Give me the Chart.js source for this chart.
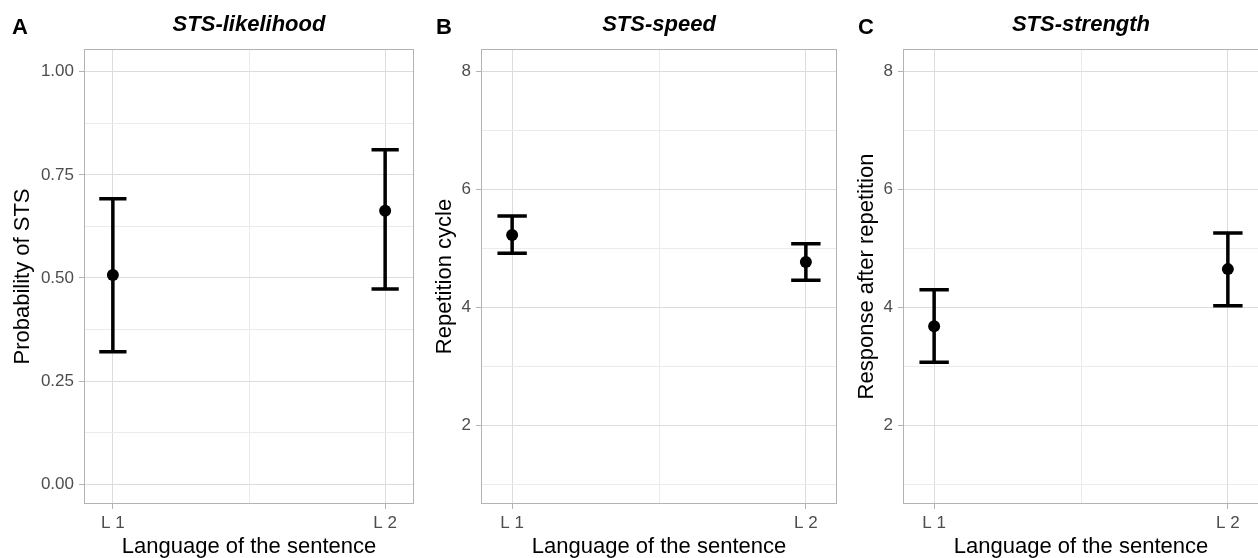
<!DOCTYPE html>
<html>
<head>
<meta charset="utf-8">
<script src="https://cdn.jsdelivr.net/npm/chart.js@4/dist/chart.umd.min.js"></script>
<style>
  body { margin: 0; background: #fff; overflow: hidden; }
  .panel { position: absolute; top: 0; }
</style>
</head>
<body>
<div class="panel" style="left:0px"><canvas id="chartA" width="420" height="558"></canvas></div>
<div class="panel" style="left:420px"><canvas id="chartB" width="420" height="558"></canvas></div>
<div class="panel" style="left:840px"><canvas id="chartC" width="420" height="558"></canvas></div>
<script>
const categories = ['L 1', 'L 2'];

const likelihoodMean = [0.507, 0.663];
const likelihoodLow = [0.321, 0.473];
const likelihoodHigh = [0.692, 0.811];

const speedMean = [5.23, 4.77];
const speedLow = [4.92, 4.46];
const speedHigh = [5.55, 5.08];

const strengthMean = [3.68, 4.65];
const strengthLow = [3.07, 4.03];
const strengthHigh = [4.30, 5.26];

const probTicks = [0, 0.25, 0.5, 0.75, 1];
const probMinor = [0.125, 0.375, 0.625, 0.875];
const countTicks = [2, 4, 6, 8];
const countMinor = [1, 3, 5, 7];

const FONT = '"Liberation Sans", Arial, Helvetica, sans-serif';
const GRID_MAJOR = '#dcdcdc';
const GRID_MINOR = '#ebebeb';
const BORDER = '#b3b3b3';

// error bars + panel border + titles
const decor = {
  id: 'decor',
  beforeDatasetsDraw(chart) {
    const {ctx, scales: {x, y}} = chart;
    const opt = chart.options.plugins.decor;
    ctx.save();
    ctx.strokeStyle = '#000';
    ctx.lineWidth = 3.5;
    opt.low.forEach((lo, i) => {
      const px = x.getPixelForValue(i + 1);
      const w = x.getPixelForValue(i + 1 + 0.05) - px;
      const yl = y.getPixelForValue(lo);
      const yh = y.getPixelForValue(opt.high[i]);
      ctx.beginPath();
      ctx.moveTo(px, yl); ctx.lineTo(px, yh);
      ctx.moveTo(px - w, yl); ctx.lineTo(px + w, yl);
      ctx.moveTo(px - w, yh); ctx.lineTo(px + w, yh);
      ctx.stroke();
    });
    ctx.restore();
  },
  afterDraw(chart) {
    const {ctx, chartArea: a} = chart;
    const opt = chart.options.plugins.decor;
    ctx.save();
    ctx.strokeStyle = BORDER;
    ctx.lineWidth = 1;
    ctx.strokeRect(a.left + 0.5, a.top + 0.5, a.right - a.left - 1, a.bottom - a.top - 1);
    ctx.fillStyle = '#000';
    ctx.textBaseline = 'middle';
    ctx.font = 'bold 22px ' + FONT;
    ctx.textAlign = 'left';
    ctx.fillText(opt.letter, opt.letterX, 28);
    ctx.font = 'italic bold 22px ' + FONT;
    ctx.textAlign = 'center';
    ctx.fillText(opt.title, (a.left + a.right) / 2, 25);
    ctx.restore();
  }
};

function makePanel(id, cfg) {
  const allY = cfg.major.concat(cfg.minor).sort((p, q) => p - q);
  return new Chart(document.getElementById(id), {
    type: 'scatter',
    data: {
      datasets: [{
        data: categories.map((c, i) => ({x: i + 1, y: cfg.mean[i]})),
        backgroundColor: '#000',
        borderWidth: 0,
        pointRadius: 6
      }]
    },
    options: {
      responsive: false,
      animation: false,
      devicePixelRatio: 1,
      layout: {autoPadding: false, padding: {left: 0, top: 49, right: cfg.padRight, bottom: 0}},
      plugins: {
        legend: {display: false},
        tooltip: {enabled: false},
        decor: {letter: cfg.letter, letterX: cfg.letterX, title: cfg.title, low: cfg.low, high: cfg.high}
      },
      scales: {
        x: {
          type: 'linear',
          min: 1 - 0.106,
          max: 2 + 0.106,
          afterBuildTicks: s => { s.ticks = [1, 1.5, 2].map(v => ({value: v})); },
          afterFit: s => { s.height = 54; },
          border: {display: false},
          grid: {
            color: c => c.tick && c.tick.value === 1.5 ? GRID_MINOR : GRID_MAJOR,
            tickColor: c => c.tick && c.tick.value === 1.5 ? 'rgba(0,0,0,0)' : BORDER,
            tickLength: 5,
            lineWidth: 1
          },
          ticks: {
            autoSkip: false,
            maxRotation: 0,
            padding: 4,
            color: '#4d4d4d',
            font: {family: FONT, size: 17},
            callback: v => v === 1 ? categories[0] : (v === 2 ? categories[1] : '')
          },
          title: {
            display: true,
            text: 'Language of the sentence',
            color: '#000',
            font: {family: FONT, size: 22, lineHeight: 1},
            padding: {top: 0, bottom: 0}
          }
        },
        y: {
          min: cfg.min,
          max: cfg.max,
          afterBuildTicks: s => { s.ticks = allY.map(v => ({value: v})); },
          afterFit: s => { s.width = cfg.axisWidth; },
          border: {display: false},
          grid: {
            color: c => c.tick && cfg.minor.includes(c.tick.value) ? GRID_MINOR : GRID_MAJOR,
            tickColor: c => c.tick && cfg.minor.includes(c.tick.value) ? 'rgba(0,0,0,0)' : BORDER,
            tickLength: 5,
            lineWidth: 1
          },
          ticks: {
            autoSkip: false,
            padding: 5,
            color: '#4d4d4d',
            font: {family: FONT, size: 17},
            callback: v => cfg.major.includes(v) ? v.toFixed(cfg.decimals) : ''
          },
          title: {
            display: true,
            text: cfg.yTitle,
            color: '#000',
            font: {family: FONT, size: 22, lineHeight: 1},
            padding: {top: cfg.titlePad, bottom: 0}
          }
        }
      }
    },
    plugins: [decor]
  });
}

makePanel('chartA', {
  letter: 'A', letterX: 12, title: 'STS-likelihood', yTitle: 'Probability of STS',
  mean: likelihoodMean, low: likelihoodLow, high: likelihoodHigh,
  min: -0.048, max: 1.055, major: probTicks, minor: probMinor, decimals: 2,
  axisWidth: 84, padRight: 6, titlePad: 12
});
makePanel('chartB', {
  letter: 'B', letterX: 16, title: 'STS-speed', yTitle: 'Repetition cycle',
  mean: speedMean, low: speedLow, high: speedHigh,
  min: 0.67, max: 8.38, major: countTicks, minor: countMinor, decimals: 0,
  axisWidth: 61, padRight: 3, titlePad: 14
});
makePanel('chartC', {
  letter: 'C', letterX: 18, title: 'STS-strength', yTitle: 'Response after repetition',
  mean: strengthMean, low: strengthLow, high: strengthHigh,
  min: 0.67, max: 8.38, major: countTicks, minor: countMinor, decimals: 0,
  axisWidth: 63, padRight: 1, titlePad: 15.5
});
</script>
</body>
</html>
